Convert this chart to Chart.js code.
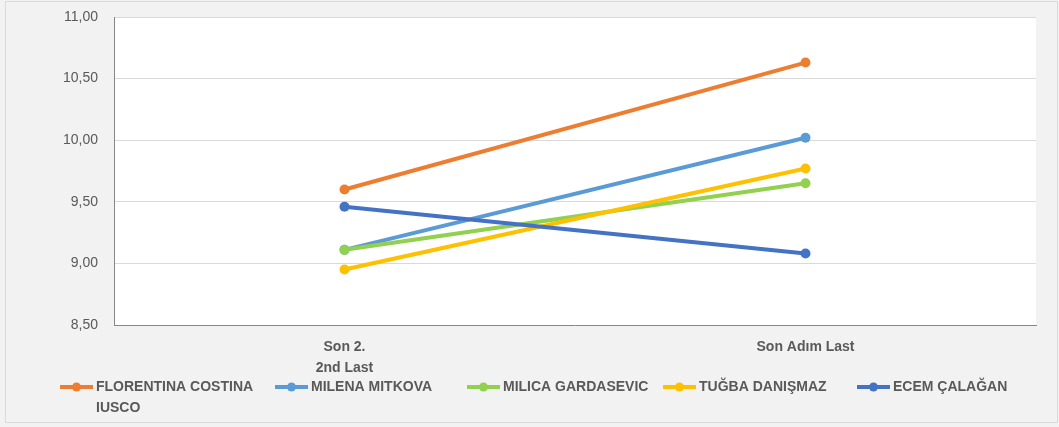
<!DOCTYPE html>
<html><head><meta charset="utf-8">
<script src="https://cdn.jsdelivr.net/npm/chart.js@4.4.1/dist/chart.umd.min.js"></script>
<style>html,body{margin:0;padding:0;background:#f2f2f2;}canvas{display:block}</style>
</head><body>
<canvas id="c" width="1059" height="427"></canvas>
<script>
const categories = [['Son 2.', '2nd Last'], 'Son Adım Last'];
const seriesNames = ['FLORENTINA COSTINA IUSCO', 'MILENA MITKOVA', 'MILICA GARDASEVIC', 'TUĞBA DANIŞMAZ', 'ECEM ÇALAĞAN'];
const florentina = [9.60, 10.63];
const milena = [9.11, 10.02];
const milica = [9.11, 9.65];
const tugba = [8.95, 9.77];
const ecem = [9.46, 9.08];
const seriesColors = ['#ED7D31', '#5B9BD5', '#92D050', '#FFC000', '#4472C4'];
const yTickLabels = ['8,50', '9,00', '9,50', '10,00', '10,50', '11,00'];
const yMin = 8.5, yMax = 11, yStep = 0.5;

const seriesValues = [florentina, milena, milica, tugba, ecem];
const FONT = '"Liberation Sans", Arial, sans-serif';
const TEXT = '#595959';

const bgPlugin = {
  id: 'bg',
  beforeDraw(chart) {
    const ctx = chart.ctx, a = chart.chartArea;
    ctx.save();
    ctx.fillStyle = '#f2f2f2';
    ctx.fillRect(0, 0, chart.width, chart.height);
    ctx.strokeStyle = '#d9d9d9';
    ctx.lineWidth = 1;
    ctx.strokeRect(5.5, 1.5, chart.width - 7, chart.height - 6);
    ctx.fillStyle = '#ffffff';
    ctx.fillRect(a.left, a.top, a.right - a.left, a.bottom - a.top);
    ctx.restore();
  }
};

const legendPlugin = {
  id: 'customLegend',
  afterDraw(chart) {
    const ctx = chart.ctx;
    const xs = [60, 275, 467, 663, 857];
    const y = 387, lineH = 21, maxW = 170;
    ctx.save();
    ctx.font = 'bold 14px ' + FONT;
    ctx.textBaseline = 'middle';
    ctx.textAlign = 'left';
    chart.data.datasets.forEach((ds, i) => {
      const x = xs[i];
      ctx.strokeStyle = ds.borderColor;
      ctx.lineWidth = 4;
      ctx.beginPath(); ctx.moveTo(x, y); ctx.lineTo(x + 33, y); ctx.stroke();
      ctx.fillStyle = ds.borderColor;
      ctx.beginPath(); ctx.arc(x + 16.5, y, 4.5, 0, Math.PI * 2); ctx.fill();
      const words = ds.label.split(' ');
      const lines = [];
      let cur = '';
      words.forEach(w => {
        const t = cur ? cur + ' ' + w : w;
        if (ctx.measureText(t).width > maxW && cur) { lines.push(cur); cur = w; }
        else cur = t;
      });
      if (cur) lines.push(cur);
      ctx.fillStyle = TEXT;
      lines.forEach((ln, k) => ctx.fillText(ln, x + 36, y + k * lineH));
    });
    ctx.restore();
  }
};

new Chart(document.getElementById('c'), {
  type: 'line',
  data: {
    labels: categories,
    datasets: seriesValues.map((vals, i) => ({
      label: seriesNames[i],
      data: vals,
      borderColor: seriesColors[i],
      backgroundColor: seriesColors[i],
      borderWidth: 4,
      pointRadius: 5,
      pointBorderWidth: 0,
      pointBackgroundColor: seriesColors[i],
      order: seriesValues.length - 1 - i,
      fill: false,
      tension: 0
    }))
  },
  options: {
    responsive: false,
    animation: false,
    layout: { autoPadding: false, padding: { left: 0, top: 17, right: 23, bottom: 0 } },
    plugins: { legend: { display: false }, tooltip: { enabled: false } },
    scales: {
      x: {
        offset: true,
        grid: { display: false, drawTicks: false },
        border: { display: true, color: '#868686', width: 1 },
        ticks: { color: TEXT, font: { family: FONT, size: 14, weight: 'bold', lineHeight: 1.5 }, padding: 12, maxRotation: 0 },
        afterFit(s) { s.height = 102; s.paddingLeft = 0; s.paddingRight = 0; }
      },
      y: {
        min: yMin, max: yMax,
        grid: { color: '#d9d9d9', drawTicks: false },
        border: { display: true, color: '#868686', width: 1 },
        ticks: {
          stepSize: yStep,
          color: TEXT,
          font: { family: FONT, size: 14 },
          padding: 16,
          callback: (v) => {
            const idx = Math.round((v - yMin) / yStep);
            return yTickLabels[idx];
          }
        },
        afterFit(s) { s.width = 114; s.paddingTop = 0; s.paddingBottom = 0; }
      }
    }
  },
  plugins: [bgPlugin, legendPlugin]
});
</script>
</body></html>
